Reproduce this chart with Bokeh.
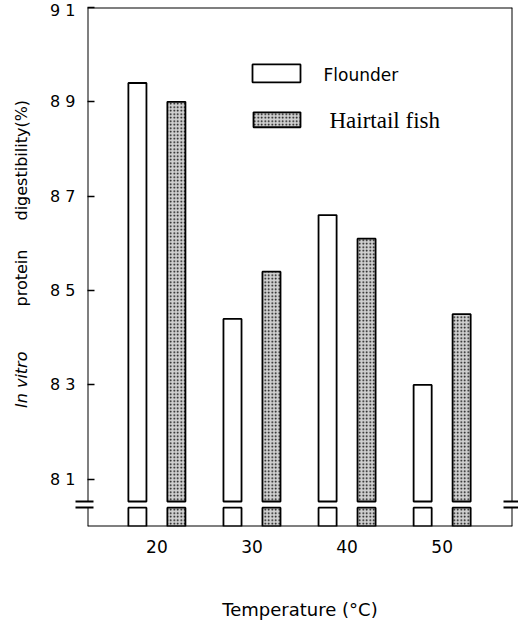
import math
from bokeh.plotting import figure
from bokeh.layouts import row
from bokeh.models import Range1d, FixedTicker, Label, Arrow, LinearAxis
from bokeh.core.properties import value
from bokeh.embed import file_html
from bokeh.resources import INLINE

# ---- data ----
temps = [20, 30, 40, 50]
flounder = [89.4, 84.4, 86.6, 83.0]
hairtail = [89.0, 85.4, 86.1, 84.5]
y_ticks = [81, 83, 85, 87, 89, 91]
y_tick_labels = ["8 1", "8 3", "8 5", "8 7", "8 9", "9 1"]
x_tick_labels = ["20", "30", "40", "50"]
series_names = ["Flounder", "Hairtail fish"]
y_title_parts = ["In vitro", "protein", "digestibility(%)"]
x_title = "Temperature (°C)"

# ---- layout constants (absolute page pixels) ----
W, H = 518, 622
TW = 32                      # width of the strip holding the y title
FL, FR, FT, FB = 87, 512, 7, 527
X0, X1 = 12.7, 57.4
Y0, Y1 = 80.0, 91.0
BAR_W = 1.9
OFF = 2.05
BREAK_LO = 80.40
BREAK_HI = 80.53


def dx(px):
    return X0 + (px - FL) * (X1 - X0) / (FR - FL)


def dy(py):
    return Y0 + (FB - py) * (Y1 - Y0) / (FB - FT)


yr = Range1d(Y0, Y1)

# ---- y-title strip (shares the y scale of the main plot) ----
t = figure(width=TW, height=H, output_backend="svg", toolbar_location=None,
           x_range=Range1d(0, TW), y_range=yr, title=None,
           x_axis_location=None, y_axis_location=None,
           min_border_left=0, min_border_right=0,
           min_border_top=FT, min_border_bottom=H - FB)
t.grid.visible = False
t.outline_line_color = None
for txt, py, style in zip(y_title_parts, [380, 278, 160], ["italic", "normal", "normal"]):
    t.text(x=[21], y=[dy(py)], text=[txt], angle=math.pi / 2,
           text_align="center", text_baseline="middle",
           text_font=value("DejaVu Sans"), text_font_style=style,
           text_font_size="16px", text_color="black")

# ---- main plot ----
p = figure(width=W - TW, height=H, output_backend="svg", toolbar_location=None,
           x_range=Range1d(X0, X1), y_range=yr,
           min_border_left=FL - TW, min_border_right=W - FR,
           min_border_top=FT, min_border_bottom=H - FB)
p.outline_line_color = None
p.grid.visible = False
p.background_fill_color = "white"
p.border_fill_color = "white"

HATCH = dict(fill_color="#d0d0d0", hatch_pattern="dot", hatch_scale=3.5,
             hatch_weight=1.6, hatch_color="black")
LINE = dict(line_color="black", line_width=1.8)

fx = [v - OFF for v in temps]
hx = [v + OFF for v in temps]

p.vbar(x=fx, width=BAR_W, top=flounder, bottom=BREAK_HI, fill_color="white", **LINE)
p.vbar(x=hx, width=BAR_W, top=hairtail, bottom=BREAK_HI, **HATCH, **LINE)
p.vbar(x=fx, width=BAR_W, top=[BREAK_LO] * len(temps), bottom=Y0, fill_color="white", **LINE)
p.vbar(x=hx, width=BAR_W, top=[BREAK_LO] * len(temps), bottom=Y0, **HATCH, **LINE)


def seg(x0, y0, x1, y1, w=2.0):
    p.add_layout(Arrow(end=None, start=None, x_start=x0, y_start=y0, x_end=x1, y_end=y1,
                       line_color="black", line_width=w))


seg(X0, Y1, X1, Y1)           # top
seg(X0, Y0, X1, Y0)           # bottom
seg(X0, Y1, X0, BREAK_HI)     # left upper
seg(X0, BREAK_LO, X0, Y0)     # left lower
seg(X1, Y1, X1, BREAK_HI)     # right upper
seg(X1, BREAK_LO, X1, Y0)     # right lower

# y axis: majors = labelled ticks, minors = the axis-break marks
ya = p.yaxis[0]
ya.ticker = FixedTicker(ticks=y_ticks, minor_ticks=[BREAK_LO, BREAK_HI])
ya.major_label_overrides = {v: l for v, l in zip(y_ticks, y_tick_labels)}
ya.axis_line_color = None
ya.major_tick_in = 7
ya.major_tick_out = 0
ya.major_tick_line_width = 1.5
ya.major_tick_line_color = "black"
ya.minor_tick_in = 6
ya.minor_tick_out = 12
ya.minor_tick_line_width = 1.8
ya.minor_tick_line_color = "black"
ya.major_label_standoff = 0
ya.major_label_text_font = "DejaVu Sans"
ya.major_label_text_font_size = "16px"
ya.major_label_text_color = "black"

# right axis: only the break marks
ra = LinearAxis(ticker=FixedTicker(ticks=[], minor_ticks=[BREAK_LO, BREAK_HI]))
ra.axis_line_color = None
ra.major_tick_line_color = None
ra.minor_tick_in = 9
ra.minor_tick_out = 6
ra.minor_tick_line_width = 1.8
ra.minor_tick_line_color = "black"
ra.major_label_text_font_size = "0px"
ra.major_label_standoff = 0
p.add_layout(ra, "right")

# x axis
xa = p.xaxis[0]
xa.ticker = FixedTicker(ticks=temps)
xa.major_label_overrides = {v: l for v, l in zip(temps, x_tick_labels)}
xa.axis_line_color = None
xa.major_tick_line_color = None
xa.minor_tick_line_color = None
xa.major_label_standoff = 7
xa.major_label_text_font = "DejaVu Sans"
xa.major_label_text_font_size = "17px"
xa.major_label_text_color = "black"
xa.axis_label = x_title
xa.axis_label_text_font = "DejaVu Sans"
xa.axis_label_text_font_style = "normal"
xa.axis_label_text_font_size = "18px"
xa.axis_label_text_color = "black"
xa.axis_label_standoff = 43

# legend
p.quad(left=[dx(252)], right=[dx(300)], top=[dy(64)], bottom=[dy(82)],
       fill_color="white", **LINE)
p.quad(left=[dx(253)], right=[dx(300)], top=[dy(112)], bottom=[dy(127)],
       **HATCH, **LINE)
p.add_layout(Label(x=dx(323), y=dy(75), text=series_names[0], text_align="left",
                   text_baseline="middle", text_font="DejaVu Sans",
                   text_font_size="17px", text_color="black"))
p.add_layout(Label(x=dx(329), y=dy(120), text=series_names[1], text_align="left",
                   text_baseline="middle", text_font="Liberation Serif",
                   text_font_size="23px", text_color="black"))

layout = row(t, p, spacing=0)
open("out.html", "w").write(file_html(layout, INLINE))
